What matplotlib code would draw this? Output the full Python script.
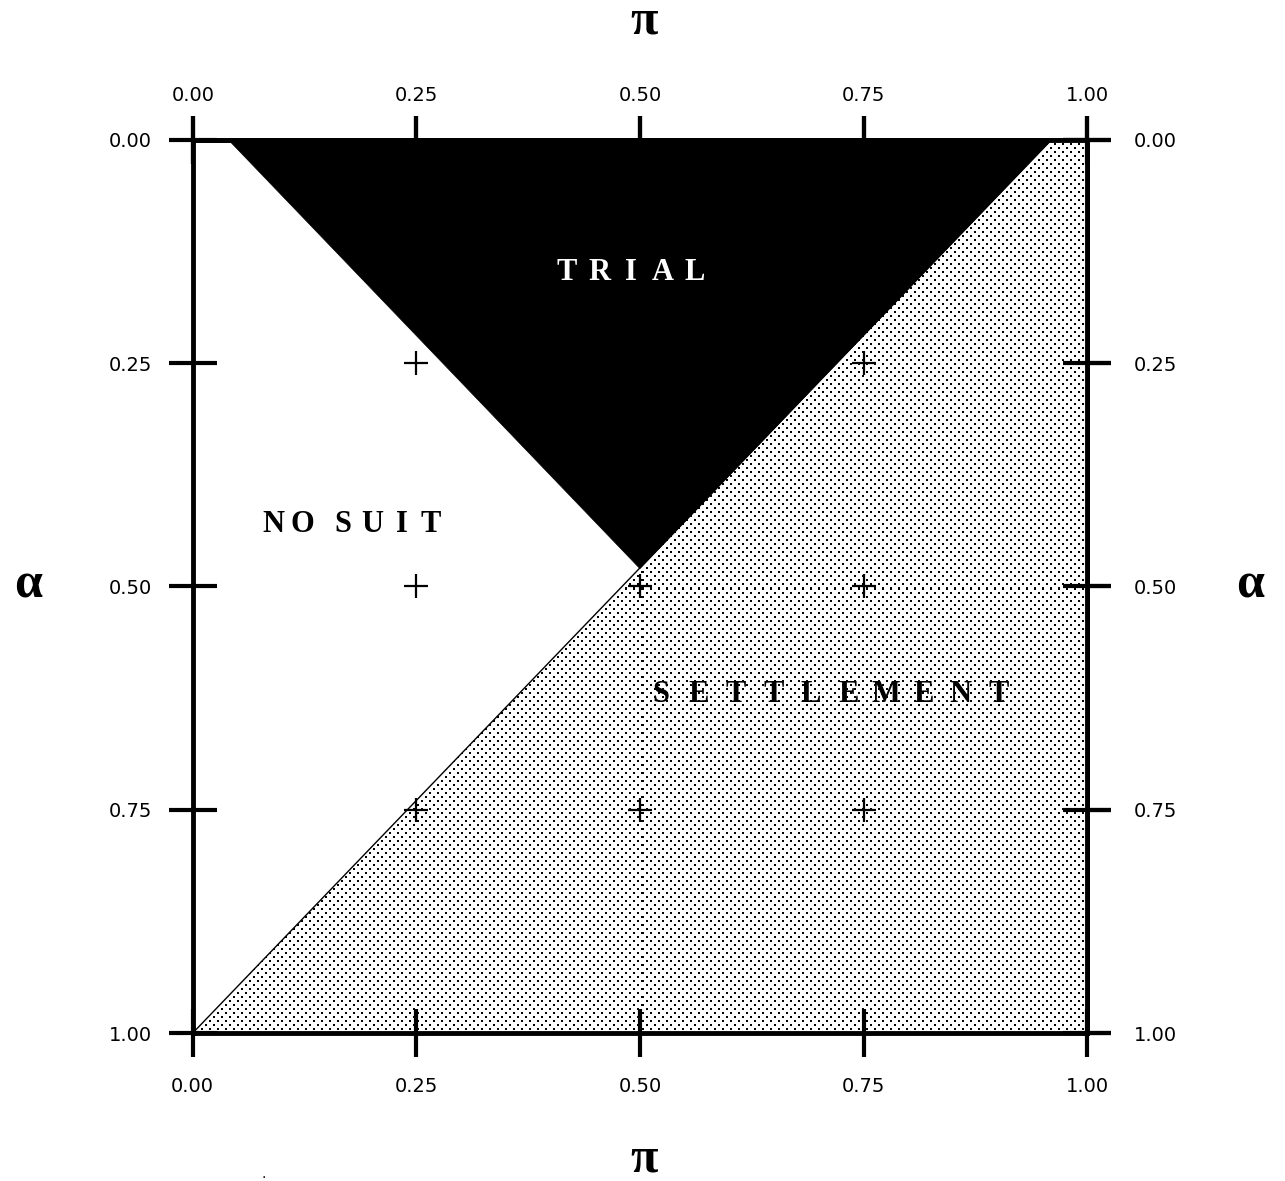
"""
Regioni di equilibrio (no suit / trial / settlement) nel piano (pi, alpha).
"""

import numpy as np
import matplotlib
matplotlib.use("Agg")
import matplotlib.pyplot as plt
from matplotlib.transforms import offset_copy

# ── Dati ─────────────────────────────────────────────────────────
tick_vals = [0.0, 0.25, 0.5, 0.75, 1.0]
tick_labels = ["0.00", "0.25", "0.50", "0.75", "1.00"]

# triangolo TRIAL (vertici in coordinate pi, alpha)
trial_pi = [0.04, 0.96, 0.5]
trial_alpha = [0.0, 0.0, 0.48]

# regione SETTLEMENT
settle_pi = [0.0, 0.96, 1.0, 1.0]
settle_alpha = [1.0, 0.0, 0.0, 1.0]

# crocette della griglia interna
grid_pi = [0.25, 0.75, 0.25, 0.5, 0.75, 0.25, 0.5, 0.75]
grid_alpha = [0.25, 0.25, 0.5, 0.5, 0.5, 0.75, 0.75, 0.75]

region_names = ["TRIAL", "NO SUIT", "SETTLEMENT"]
region_pos = [(0.49, 0.148), (0.178, 0.431), (0.712, 0.621)]
region_colors = ["white", "black", "black"]
region_step = [23.0, 21.0, 27.0]   # passo tra le lettere (pt)


# ── Helper ───────────────────────────────────────────────────────

def spaced_text(ax, x, y, word, step, color):
    """Scrive una parola lettera per lettera con spaziatura fissa."""
    slots = [0.4 if c == " " else 1.0 for c in word]
    total = sum(slots) - 0.5 * (slots[0] + slots[-1])
    pos = -total / 2 * step
    for k, c in enumerate(word):
        if k > 0:
            pos += 0.5 * (slots[k - 1] + slots[k]) * step
        if c == " ":
            continue
        tr = offset_copy(ax.transData, fig=ax.figure, x=pos, y=0, units="points")
        ax.text(x, y, c, transform=tr, ha="center", va="center", color=color,
                fontsize=22, fontweight="bold", family="Liberation Serif",
                zorder=4)


def stipple(nx, ny, period=8):
    """Motivo a puntini sfalsati (come il retino della figura originale)."""
    img = np.ones((ny, nx))
    yy, xx = np.mgrid[0:ny, 0:nx]
    a = (xx % period < 2) & (yy % period < 2)
    h = period // 2
    b = ((xx + h) % period < 2) & ((yy + h) % period < 2)
    img[a | b] = 0.0
    return img


# ── Figura ───────────────────────────────────────────────────────
fig = plt.figure(figsize=(12.85, 11.81), dpi=100)
ax = fig.add_axes([0.150, 0.1253, 0.696, 0.7562])

patch = ax.fill(settle_pi, settle_alpha, facecolor="white", edgecolor="none",
                zorder=1)[0]
im = ax.imshow(stipple(894, 893), cmap="gray", vmin=0, vmax=1,
               extent=[0, 1, 1, 0], interpolation="nearest", aspect="auto",
               zorder=1.5)
im.set_clip_path(patch)
ax.plot(settle_pi[:2], settle_alpha[:2], color="black", linewidth=1.0,
        zorder=1.6)
ax.fill(trial_pi, trial_alpha, facecolor="black", edgecolor="black",
        linewidth=0.5, zorder=2)

ax.plot(grid_pi, grid_alpha, linestyle="none", marker="+", color="black",
        markersize=17, markeredgewidth=1.6, zorder=3)

for name, (px, py), col, st in zip(region_names, region_pos,
                                    region_colors, region_step):
    spaced_text(ax, px, py, name, st, col)

ax.set_xlim(0, 1)
ax.set_ylim(1, 0)

for s in ax.spines.values():
    s.set_linewidth(3.5)
    s.set_zorder(5)

ax.set_xticks(tick_vals)
ax.set_xticklabels(tick_labels)
ax.set_yticks(tick_vals)
ax.set_yticklabels(tick_labels)
ax.tick_params(axis="both", direction="inout", length=35, width=3,
               labelsize=14, colors="black")
ax.tick_params(axis="x", bottom=True, top=True, labelbottom=True,
               labeltop=False, pad=14)
ax.tick_params(axis="y", left=True, right=True, labelleft=True,
               labelright=False, pad=12)

# etichette in alto e a destra con distanze diverse
top = ax.secondary_xaxis("top")
top.set_xticks(tick_vals)
top.set_xticklabels(tick_labels)
top.tick_params(direction="inout", length=35, width=3, labelsize=14, pad=8)
top.spines["top"].set_linewidth(3.5)

right = ax.secondary_yaxis("right")
right.set_yticks(tick_vals)
right.set_yticklabels(tick_labels)
right.tick_params(direction="inout", length=35, width=3, labelsize=14, pad=16)
right.spines["right"].set_linewidth(3.5)

# simboli degli assi
sym = dict(fontsize=36, fontweight="bold", family="Liberation Serif",
           ha="center", va="center")
fig.text(0.501, 1 - 22 / 1181, "π", **sym)
fig.text(0.501, 1 - 1160 / 1181, "π", **sym)
fig.text(28 / 1285, 1 - 585 / 1181, "α", **sym)
fig.text(1250 / 1285, 1 - 585 / 1181, "α", **sym)
fig.text(264 / 1285, 1 - 1174 / 1181, ".", fontsize=10, ha="center", va="center")

fig.savefig("out.png", dpi=100)
